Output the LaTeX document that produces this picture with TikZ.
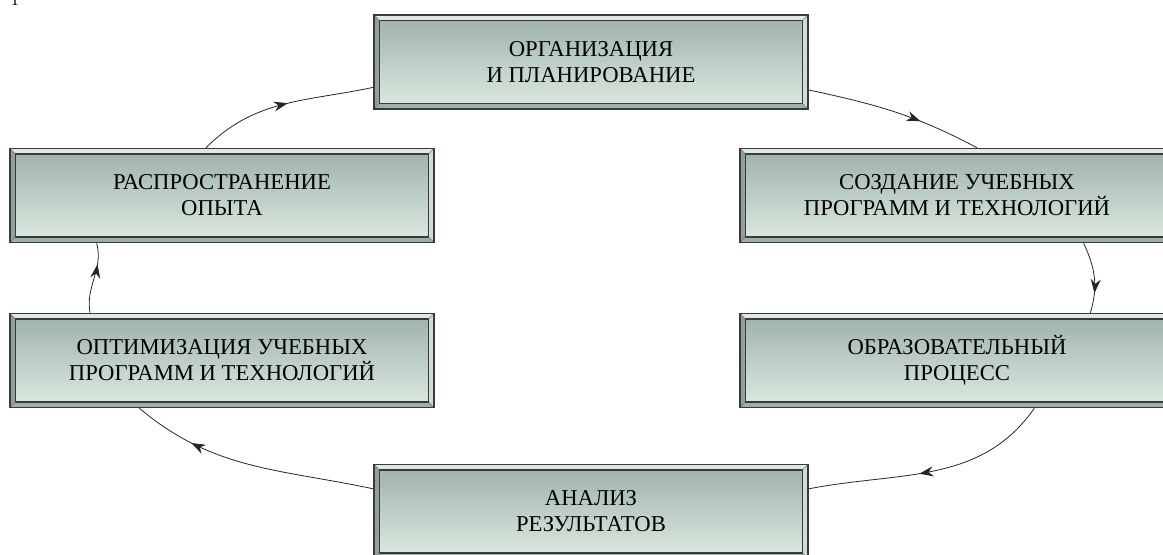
\documentclass[tikz,border=0pt]{standalone}
\usepackage{fontspec}
\setmainfont{Liberation Serif}
\usetikzlibrary{arrows.meta, decorations.markings, positioning}

\definecolor{ramka}{HTML}{3A3A3A}
\definecolor{svet}{HTML}{DDE9E1}
\definecolor{ten}{HTML}{9DAEAB}
\definecolor{verh}{HTML}{A1B3B0}
\definecolor{niz}{HTML}{DAE7DE}

\begin{document}
\begin{tikzpicture}[
      x=0.75pt, y=-0.75pt,
      >={Stealth[length=10.5pt, width=7.5pt, inset=3.5pt]},
      blok/.style={draw=ramka, line width=1.1pt, minimum width=#1, minimum height=70.5pt,
        inner sep=0pt, align=center, font=\fontsize{17}{19.5}\selectfont,
        path picture={
          \coordinate (A) at (path picture bounding box.north west);
          \coordinate (B) at (path picture bounding box.north east);
          \coordinate (C) at (path picture bounding box.south east);
          \coordinate (D) at (path picture bounding box.south west);
          \coordinate (a) at ([shift={(4pt,-4pt)}]A);
          \coordinate (b) at ([shift={(-4pt,-4pt)}]B);
          \coordinate (c) at ([shift={(-4pt,4pt)}]C);
          \coordinate (d) at ([shift={(4pt,4pt)}]D);
          \fill[svet] (A) -- (B) -- (b) -- (a) -- cycle;
          \fill[svet!80!ten] (B) -- (C) -- (c) -- (b) -- cycle;
          \fill[ten] (C) -- (D) -- (d) -- (c) -- cycle;
          \fill[ten!92!black] (D) -- (A) -- (a) -- (d) -- cycle;
          \shade[top color=verh, bottom color=niz] (a) rectangle (c);
          \draw[ramka, line width=1.1pt] (a) rectangle (c);
          \draw[ramka!70, line width=0.4pt] (A) -- (a) (B) -- (b) (C) -- (c) (D) -- (d);
        }},
      blok/.default=325.5pt,
      strelka/.style={line width=0.6pt, draw=black!85, postaction={decorate},
        decoration={markings, mark=at position #1 with {\arrow{>}}}},
      strelka/.default=0.5
    ]
    \useasboundingbox (0,0) rectangle (1163,555);

    % obryvok nomera
    \node[anchor=base, font=\fontsize{12}{12}\selectfont, inner sep=0pt] (nomer) at (15,6) {1};

    % Bloki
    \node[blok] (org) at (591,62) {ОРГАНИЗАЦИЯ\\И ПЛАНИРОВАНИЕ};
    \node[blok] (sozd) at (957,195.5) {СОЗДАНИЕ УЧЕБНЫХ\\ПРОГРАММ И ТЕХНОЛОГИЙ};
    \node[blok] (obr) at (957,360.5) {ОБРАЗОВАТЕЛЬНЫЙ\\ПРОЦЕСС};
    \node[blok] (anal) at (591,511.5) {АНАЛИЗ\\РЕЗУЛЬТАТОВ};
    \node[blok=318pt] (opt) at (222,360.5) {ОПТИМИЗАЦИЯ УЧЕБНЫХ\\ПРОГРАММ И ТЕХНОЛОГИЙ};
    \node[blok=318pt] (rasp) at (222,195.5) {РАСПРОСТРАНЕНИЕ\\ОПЫТА};

    % Strelki
    \draw[strelka=0.52] ([xshift=-12pt]rasp.north) to[out=45, in=192] ([yshift=-19pt]org.west);
    \draw[strelka=0.65] ([yshift=-21pt]org.east) to[out=-12, in=152] ([xshift=15pt]sozd.north);
    \draw[strelka=0.72] ([xshift=95pt]sozd.south) to[out=-65, in=73] ([xshift=100pt]obr.north);
    \draw[strelka=0.55] ([xshift=58pt]obr.south) to[out=-125, in=11] ([yshift=17pt]anal.east);
    \draw[strelka=0.75] ([yshift=17pt]anal.west) to[out=168, in=-40] ([xshift=-62pt]opt.south);
    \draw[strelka=0.7] ([xshift=-99pt]opt.north) to[out=100, in=-75] ([xshift=-94pt]rasp.south);
  \end{tikzpicture}
\end{document}
